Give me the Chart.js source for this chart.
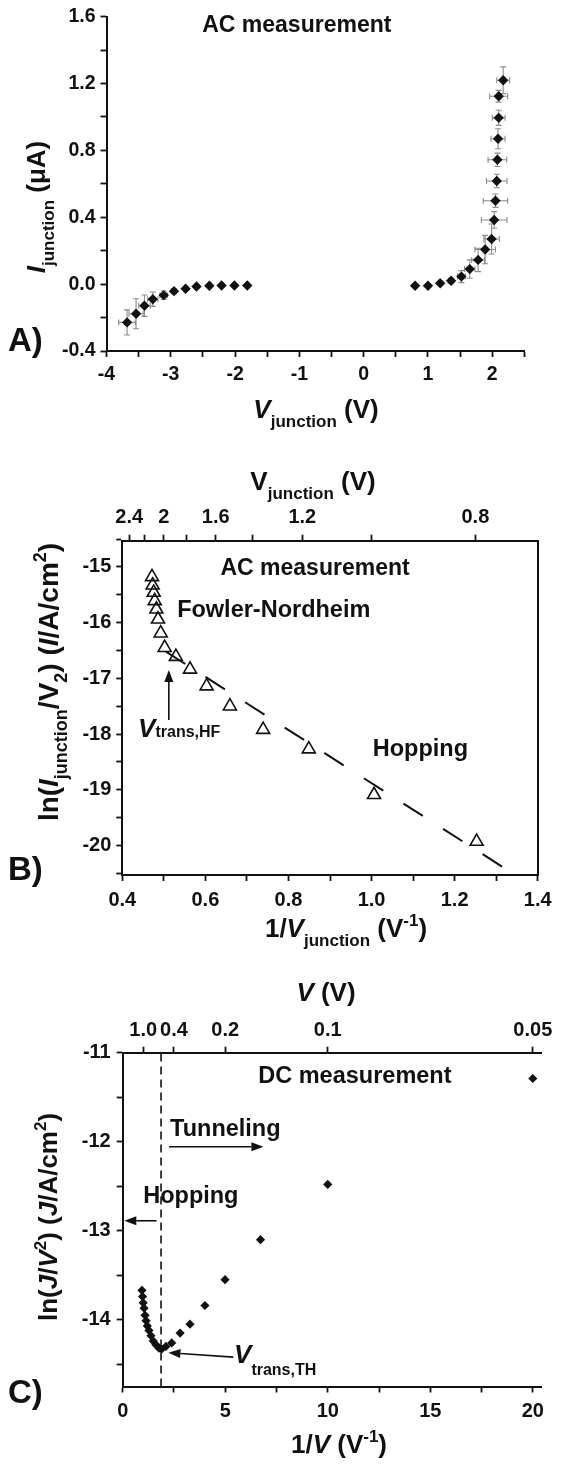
<!DOCTYPE html>
<html>
<head>
<meta charset="utf-8">
<script src="https://cdn.jsdelivr.net/npm/chart.js@4.4.1/dist/chart.umd.min.js"></script>
<style>
  html, body { margin: 0; padding: 0; background: #fff; }
  #page { position: relative; width: 561px; height: 1465px; overflow: hidden; }
  .panel { position: absolute; left: 0; width: 561px; }
</style>
</head>
<body>
<div id="page">
  <div class="panel" style="top:0;height:460px"><canvas id="chartA"></canvas></div>
  <div class="panel" style="top:460px;height:500px"><canvas id="chartB"></canvas></div>
  <div class="panel" style="top:960px;height:505px"><canvas id="chartC"></canvas></div>
</div>
<script>
// ---------- panel A : I-V, AC measurement
const aNegV    = [-3.68, -3.54, -3.41, -3.28, -3.11, -2.95, -2.77, -2.60, -2.40, -2.21, -2.01, -1.81];
const aNegI    = [-0.229, -0.177, -0.129, -0.090, -0.066, -0.042, -0.028, -0.014, -0.010, -0.008, -0.008, -0.008];
const aNegVErr = [0.13, 0.11, 0.09, 0.08, 0.06, 0.04, 0.03, 0.02, 0.02, 0.02, 0.02, 0.02];
const aNegIErr = [0.075, 0.09, 0.064, 0.043, 0.025, 0.012, 0.008, 0.005, 0.004, 0.003, 0.003, 0.003];

const aPosV    = [0.80, 1.00, 1.19, 1.36, 1.52, 1.65, 1.78, 1.89, 1.99, 2.03, 2.05, 2.07, 2.08, 2.09, 2.10, 2.10, 2.17];
const aPosI    = [-0.010, -0.010, 0.005, 0.020, 0.045, 0.090, 0.145, 0.207, 0.270, 0.384, 0.499, 0.617, 0.744, 0.870, 0.995, 1.124, 1.220];
const aPosVErr = [0.02, 0.02, 0.03, 0.04, 0.06, 0.08, 0.10, 0.16, 0.12, 0.20, 0.19, 0.16, 0.145, 0.11, 0.10, 0.14, 0.10];
const aPosIErr = [0.005, 0.005, 0.01, 0.015, 0.036, 0.055, 0.07, 0.085, 0.09, 0.05, 0.04, 0.04, 0.04, 0.06, 0.045, 0.035, 0.08];

const aXTicks  = [-4, -3.5, -3, -2.5, -2, -1.5, -1, -0.5, 0, 0.5, 1, 1.5, 2, 2.5];
const aXLabels = ['-4', '', '-3', '', '-2', '', '-1', '', '0', '', '1', '', '2', ''];
const aYTicks  = [-0.4, -0.2, 0, 0.2, 0.4, 0.6, 0.8, 1.0, 1.2, 1.4, 1.6];
const aYLabels = ['-0.4', '', '0.0', '', '0.4', '', '0.8', '', '1.2', '', '1.6'];

// ---------- panel B : ln(I/V2) vs 1/V, AC measurement
const bInvV = [0.4715, 0.473, 0.4755, 0.478, 0.482, 0.486, 0.4925, 0.502, 0.529, 0.563, 0.603, 0.659, 0.739, 0.849, 1.006, 1.253];
const bLnIV = [-15.18, -15.33, -15.46, -15.61, -15.76, -15.94, -16.19, -16.45, -16.61, -16.84, -17.14, -17.50, -17.92, -18.27, -19.09, -19.93];
const bFitX = [0.505, 1.33];
const bFitY = [-16.52, -20.455];

const bXTicks   = [0.4, 0.5, 0.6, 0.7, 0.8, 0.9, 1.0, 1.1, 1.2, 1.3, 1.4];
const bXLabels  = ['0.4', '', '0.6', '', '0.8', '', '1.0', '', '1.2', '', '1.4'];
const bYTicks   = [-20.5, -20, -19.5, -19, -18.5, -18, -17.5, -17, -16.5, -16, -15.5, -15, -14.5];
const bYLabels  = ['', '-20', '', '-19', '', '-18', '', '-17', '', '-16', '', '-15', ''];
const bTopV     = [2.4, 2.2, 2.0, 1.8, 1.6, 1.4, 1.2, 1.0, 0.8];
const bTopLabels = ['2.4', '', '2', '', '1.6', '', '1.2', '', '0.8'];

// ---------- panel C : ln(J/V2) vs 1/V, DC measurement
const cInvV = [0.94, 0.97, 1.00, 1.04, 1.09, 1.14, 1.20, 1.28, 1.38, 1.49, 1.62, 1.77, 1.90, 2.11, 2.39, 2.80, 3.28, 4.01, 4.99, 6.72, 10.0, 20.0];
const cLnJV = [-13.67, -13.74, -13.81, -13.87, -13.95, -14.01, -14.07, -14.12, -14.18, -14.24, -14.28, -14.32, -14.33, -14.30, -14.26, -14.15, -14.05, -13.84, -13.55, -13.10, -12.48, -11.29];
const cTransX = 1.87;

const cXTicks   = [0, 2.5, 5, 7.5, 10, 12.5, 15, 17.5, 20];
const cXLabels  = ['0', '', '5', '', '10', '', '15', '', '20'];
const cYTicks   = [-14.5, -14, -13.5, -13, -12.5, -12, -11.5, -11];
const cYLabels  = ['', '-14', '', '-13', '', '-12', '', '-11'];
const cTopV     = [1.0, 0.4, 0.2, 0.1, 0.05];
const cTopLabels = ['1.0', '0.4', '0.2', '0.1', '0.05'];

// ---------- helpers
const FAM = '"Liberation Sans", Arial, Helvetica, sans-serif';
const INK = '#111';
Chart.defaults.font.family = FAM;
Chart.defaults.color = INK;

const N  = t => ({ t });
const It = t => ({ t, i: true });
const Sb = t => ({ t, sub: true });
const Sp = t => ({ t, sup: true });

// text made of normal / italic / subscript / superscript pieces
function rich(ctx, parts, x, y, o) {
  const size = o.size || 26, small = o.small || 17;
  const subDy = o.subDy != null ? o.subDy : size * 0.33;
  const supDy = -size * 0.42;
  ctx.save();
  ctx.translate(x, y);
  if (o.rot) ctx.rotate(o.rot);
  ctx.fillStyle = INK;
  ctx.textBaseline = 'alphabetic';
  ctx.textAlign = 'left';
  const font = p => (p.i ? 'italic ' : '') + 'bold ' + (p.sub || p.sup ? small : size) + 'px ' + FAM;
  let total = 0;
  const w = parts.map(p => { ctx.font = font(p); const m = ctx.measureText(p.t).width; total += m; return m; });
  let cx = o.align === 'center' ? -total / 2 : 0;
  parts.forEach((p, k) => {
    ctx.font = font(p);
    ctx.fillText(p.t, cx, p.sub ? subDy : p.sup ? supDy : 0);
    cx += w[k];
  });
  ctx.restore();
}

function arrow(ctx, x1, y1, x2, y2) {
  const a = Math.atan2(y2 - y1, x2 - x1), L = 12, W = 4.5;
  const bx = x2 - L * Math.cos(a), by = y2 - L * Math.sin(a);
  ctx.save();
  ctx.strokeStyle = INK; ctx.fillStyle = INK; ctx.lineWidth = 1.6;
  ctx.beginPath(); ctx.moveTo(x1, y1); ctx.lineTo(bx, by); ctx.stroke();
  ctx.beginPath();
  ctx.moveTo(x2, y2);
  ctx.lineTo(bx - W * Math.sin(a), by + W * Math.cos(a));
  ctx.lineTo(bx + W * Math.sin(a), by - W * Math.cos(a));
  ctx.closePath(); ctx.fill();
  ctx.restore();
}

// thick = space the axis takes between canvas edge and plot area
function mkAxis(pos, min, max, vals, labels, thick, o = {}) {
  const vertical = pos === 'left' || pos === 'right';
  return {
    type: 'linear', position: pos, min: min, max: max,
    afterBuildTicks: s => { s.ticks = (o.tickFn ? o.tickFn() : vals).map(v => ({ value: v })); },
    afterFit: s => { if (vertical) s.width = thick; else s.height = thick; },
    ticks: {
      display: labels.length > 0,
      autoSkip: false, maxRotation: 0, minRotation: 0,
      padding: o.pad != null ? o.pad : 5,
      color: INK,
      font: { family: FAM, size: o.size || 20, weight: 'bold' },
      callback: (v, i) => labels[i]
    },
    grid: { display: o.noTicks ? false : true, drawOnChartArea: false, drawTicks: true, tickLength: 6, tickWidth: 1.8, tickColor: INK },
    border: { display: true, color: INK, width: 2 }
  };
}

const pts = (xs, ys) => xs.map((v, k) => ({ x: v, y: ys[k] }));

function baseOptions(pad, scales) {
  return {
    responsive: true, maintainAspectRatio: false, animation: false, events: [],
    layout: { padding: pad, autoPadding: false },
    plugins: { legend: { display: false }, tooltip: { enabled: false } },
    elements: { line: { tension: 0 } },
    scales: scales
  };
}

// ---------- chart A
const decorA = {
  id: 'decorA',
  beforeDatasetsDraw(chart) {
    const { ctx, scales: { x, y } } = chart;
    ctx.save();
    ctx.strokeStyle = '#8c8c8c'; ctx.lineWidth = 1.1;
    const bars = (vs, is, ve, ie) => vs.forEach((v, k) => {
      const px = x.getPixelForValue(v), py = y.getPixelForValue(is[k]);
      const x0 = x.getPixelForValue(v - ve[k]), x1 = x.getPixelForValue(v + ve[k]);
      const y0 = y.getPixelForValue(is[k] - ie[k]), y1 = y.getPixelForValue(is[k] + ie[k]);
      ctx.beginPath();
      ctx.moveTo(x0, py); ctx.lineTo(x1, py);
      ctx.moveTo(x0, py - 3); ctx.lineTo(x0, py + 3);
      ctx.moveTo(x1, py - 3); ctx.lineTo(x1, py + 3);
      ctx.moveTo(px, y0); ctx.lineTo(px, y1);
      ctx.moveTo(px - 3, y0); ctx.lineTo(px + 3, y0);
      ctx.moveTo(px - 3, y1); ctx.lineTo(px + 3, y1);
      ctx.stroke();
    });
    bars(aNegV, aNegI, aNegVErr, aNegIErr);
    bars(aPosV, aPosI, aPosVErr, aPosIErr);
    ctx.restore();
  },
  afterDraw(chart) {
    const { ctx, scales: { x, y } } = chart;
    rich(ctx, [N('AC measurement')], x.getPixelForValue(-1.04), y.getPixelForValue(1.506), { size: 23, align: 'center' });
    rich(ctx, [N('A)')], 8, 351, { size: 33 });
    rich(ctx, [It('I'), Sb('junction'), N(' (\u03bcA)')], 45, 207, { align: 'center', rot: -Math.PI / 2 });
    rich(ctx, [It('V'), Sb('junction'), N(' (V)')], 316, 418, { align: 'center' });
  }
};

new Chart(document.getElementById('chartA'), {
  type: 'scatter',
  data: {
    datasets: [
      { data: pts(aNegV, aNegI), pointStyle: 'rectRot', pointRadius: 5.2, backgroundColor: INK, borderColor: INK, borderWidth: 0 },
      { data: pts(aPosV, aPosI), pointStyle: 'rectRot', pointRadius: 5.2, backgroundColor: INK, borderColor: INK, borderWidth: 0 }
    ]
  },
  options: baseOptions({ left: 0, right: 36.6, top: 16, bottom: 0 }, {
    x: mkAxis('bottom', -4, 2.5, aXTicks, aXLabels, 109, { size: 19.5, pad: 6 }),
    y: mkAxis('left', -0.4, 1.6, aYTicks, aYLabels, 106.5, { size: 19.5, pad: 5 })
  }),
  plugins: [decorA]
});

// ---------- chart B
const decorB = {
  id: 'decorB',
  afterDraw(chart) {
    const { ctx, scales: { x, y } } = chart;
    const X = v => x.getPixelForValue(v), Y = v => y.getPixelForValue(v);
    rich(ctx, [N('AC measurement')], X(0.864), Y(-15.15), { size: 23, align: 'center' });
    rich(ctx, [N('Fowler-Nordheim')], X(0.532), Y(-15.896), { size: 23.5 });
    rich(ctx, [N('Hopping')], X(1.003), Y(-18.39), { size: 23.5 });
    rich(ctx, [It('V'), Sb('trans,HF')], X(0.438), Y(-18.05), { size: 26, small: 16, subDy: 0 });
    arrow(ctx, X(0.512), Y(-17.75), X(0.512), Y(-16.85));
    rich(ctx, [N('B)')], 8, 420, { size: 33 });
    rich(ctx, [N('V'), Sb('junction'), N(' (V)')], 313, 30, { align: 'center' });
    rich(ctx, [N('ln('), It('I'), Sb('junction'), N('/V'), Sb('2'), N(') ('), It('I'), N('/A/cm'), Sp('2'), N(')')],
      58, 222, { align: 'center', rot: -Math.PI / 2, size: 28, small: 18 });
    rich(ctx, [N('1/'), It('V'), Sb('junction'), N(' (V'), Sp('-1'), N(')')], 346, 477, { align: 'center' });
  }
};

new Chart(document.getElementById('chartB'), {
  type: 'scatter',
  data: {
    datasets: [
      { data: pts(bInvV, bLnIV), pointStyle: 'triangle', pointRadius: 7.5, backgroundColor: 'rgba(255,255,255,0)', borderColor: INK, borderWidth: 1.6 },
      { data: pts(bFitX, bFitY), showLine: true, pointRadius: 0, borderColor: INK, borderWidth: 2, borderDash: [23, 24] }
    ]
  },
  options: baseOptions({ left: 0, right: 0, top: 0, bottom: 0 }, {
    x: mkAxis('bottom', 0.4, 1.4, bXTicks, bXLabels, 85, { pad: 7 }),
    y: mkAxis('left', -20.53, -14.53, bYTicks, bYLabels, 122.3, { pad: 5 }),
    xt: mkAxis('top', 0.4, 1.4, null, bTopLabels, 80.7, { pad: 5, tickFn: () => bTopV.map(v => 1 / v) }),
    yr: mkAxis('right', -20.53, -14.53, [], [], 23.3, { noTicks: true })
  }),
  plugins: [decorB]
});

// ---------- chart C
const decorC = {
  id: 'decorC',
  afterDraw(chart) {
    const { ctx, scales: { x, y } } = chart;
    const X = v => x.getPixelForValue(v), Y = v => y.getPixelForValue(v);
    rich(ctx, [N('DC measurement')], X(6.61), Y(-11.337), { size: 23.5 });
    rich(ctx, [N('Tunneling')], X(2.31), Y(-11.936), { size: 23.5 });
    arrow(ctx, X(2.26), Y(-12.056), X(6.86), Y(-12.056));
    rich(ctx, [N('Hopping')], X(1.0), Y(-12.69), { size: 23.5 });
    arrow(ctx, X(1.65), Y(-12.888), X(0.08), Y(-12.888));
    rich(ctx, [It('V'), Sb('trans,TH')], X(5.43), Y(-14.487), { size: 26, small: 16, subDy: 12 });
    arrow(ctx, X(5.39), Y(-14.42), X(2.23), Y(-14.37));
    rich(ctx, [N('C)')], 8, 443, { size: 33 });
    rich(ctx, [It('V'), N(' (V)')], 326, 41, { align: 'center' });
    rich(ctx, [N('ln('), It('J'), N('/'), It('V'), Sp('2'), N(') ('), It('J'), N('/A/cm'), Sp('2'), N(')')],
      57, 257, { align: 'center', rot: -Math.PI / 2 });
    rich(ctx, [N('1/'), It('V'), N(' (V'), Sp('-1'), N(')')], 339, 493, { align: 'center' });
  }
};

new Chart(document.getElementById('chartC'), {
  type: 'scatter',
  data: {
    datasets: [
      { data: pts(cInvV, cLnJV), pointStyle: 'rectRot', pointRadius: 4.6, backgroundColor: INK, borderColor: INK, borderWidth: 0 },
      { data: [{ x: cTransX, y: -14.75 }, { x: cTransX, y: -11 }], showLine: true, pointRadius: 0, borderColor: INK, borderWidth: 1.6, borderDash: [8, 5] }
    ]
  },
  options: baseOptions({ left: 0, right: 20, top: 0, bottom: 0 }, {
    x: mkAxis('bottom', 0, 20.4, cXTicks, cXLabels, 78.5, { pad: 7 }),
    y: mkAxis('left', -14.75, -11, cYTicks, cYLabels, 122.7, { pad: 6 }),
    xt: mkAxis('top', 0, 20.4, null, cTopLabels, 92.7, { pad: 4, tickFn: () => cTopV.map(v => 1 / v) })
  }),
  plugins: [decorC]
});
</script>
</body>
</html>
